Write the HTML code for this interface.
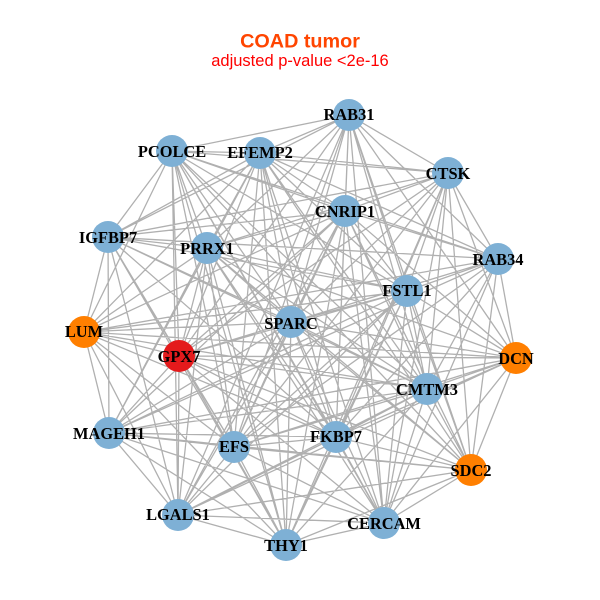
<!DOCTYPE html>
<html><head><meta charset="utf-8"><style>html,body{margin:0;padding:0;background:#fff}svg{display:block}
.n text{font:bold 16.4px "Liberation Serif",serif;text-anchor:middle;fill:#000}</style></head><body>
<svg width="600" height="600" viewBox="0 0 600 600" xmlns="http://www.w3.org/2000/svg">
<path fill="none" stroke="#b0b0b0" stroke-width="1.3" d="
M172 151L260 153M172 151L349 115M172 151L448 173M172 151L345 211M172 151L108 237M172 151L207 248M172 151L407 291M172 151L291 322M172 151L84 332M172 151L179 356M172 151L427 389M172 151L234 447M172 151L336 437M172 151L178 515M172 151L286 545M172 151L498 259M172 151L471 470M172 151L384 523
M260 153L349 115M260 153L448 173M260 153L345 211M260 153L207 248M260 153L498 259M260 153L407 291M260 153L291 322M260 153L179 356M260 153L427 389M260 153L109 433M260 153L234 447M260 153L336 437M260 153L471 470M260 153L384 523M260 153L286 545M260 153L108 237M260 153L84 332
M349 115L448 173M349 115L345 211M349 115L207 248M349 115L407 291M349 115L291 322M349 115L179 356M349 115L516 358M349 115L427 389M349 115L234 447M349 115L336 437M349 115L471 470M349 115L178 515M349 115L384 523M349 115L108 237M349 115L498 259
M448 173L345 211M448 173L498 259M448 173L207 248M448 173L108 237M448 173L407 291M448 173L291 322M448 173L516 358M448 173L427 389M448 173L336 437M448 173L471 470M448 173L384 523M448 173L286 545M448 173L234 447M448 173L179 356
M345 211L108 237M345 211L207 248M345 211L498 259M345 211L407 291M345 211L291 322M345 211L84 332M345 211L179 356M345 211L516 358M345 211L427 389M345 211L109 433M345 211L234 447M345 211L336 437M345 211L471 470M345 211L178 515M345 211L286 545M345 211L384 523
M108 237L207 248M108 237L407 291M108 237L291 322M108 237L84 332M108 237L179 356M108 237L427 389M108 237L109 433M108 237L234 447M108 237L336 437M108 237L178 515M108 237L286 545M108 237L498 259
M207 248L407 291M207 248L291 322M207 248L84 332M207 248L179 356M207 248L516 358M207 248L109 433M207 248L234 447M207 248L336 437M207 248L471 470M207 248L178 515M207 248L384 523M207 248L286 545M207 248L427 389
M498 259L407 291M498 259L291 322M498 259L179 356M498 259L516 358M498 259L427 389M498 259L109 433M498 259L234 447M498 259L336 437M498 259L471 470M498 259L384 523M498 259L84 332
M407 291L291 322M407 291L84 332M407 291L179 356M407 291L516 358M407 291L427 389M407 291L109 433M407 291L234 447M407 291L336 437M407 291L471 470M407 291L178 515M407 291L384 523M407 291L286 545
M291 322L84 332M291 322L179 356M291 322L516 358M291 322L427 389M291 322L109 433M291 322L234 447M291 322L336 437M291 322L471 470M291 322L178 515M291 322L384 523M291 322L286 545
M84 332L179 356M84 332L516 358M84 332L427 389M84 332L109 433M84 332L234 447M84 332L336 437M84 332L178 515M84 332L286 545
M179 356L516 358M179 356L427 389M179 356L109 433M179 356L234 447M179 356L336 437M179 356L471 470M179 356L178 515M179 356L384 523M179 356L286 545
M516 358L427 389M516 358L109 433M516 358L234 447M516 358L336 437M516 358L471 470M516 358L384 523M516 358L178 515
M427 389L109 433M427 389L234 447M427 389L336 437M427 389L471 470M427 389L178 515M427 389L384 523M427 389L286 545
M109 433L234 447M109 433L336 437M109 433L471 470M109 433L178 515M109 433L384 523M109 433L286 545
M234 447L336 437M234 447L471 470M234 447L178 515M234 447L384 523M234 447L286 545
M336 437L471 470M336 437L178 515M336 437L384 523M336 437L286 545
M471 470L178 515M471 470L384 523M471 470L286 545
M178 515L384 523M178 515L286 545M384 523L286 545"/>
<g fill="#7eb0d5">
<circle cx="172" cy="151" r="16"/><circle cx="260" cy="153" r="16"/><circle cx="349" cy="115" r="16"/><circle cx="448" cy="173" r="16"/><circle cx="345" cy="211" r="16"/><circle cx="108" cy="237" r="16"/><circle cx="207" cy="248" r="16"/><circle cx="498" cy="259" r="16"/><circle cx="407" cy="291" r="16"/><circle cx="291" cy="322" r="16"/><circle cx="427" cy="389" r="16"/><circle cx="109" cy="433" r="16"/><circle cx="234" cy="447" r="16"/><circle cx="336" cy="437" r="16"/><circle cx="178" cy="515" r="16"/><circle cx="384" cy="523" r="16"/><circle cx="286" cy="545" r="16"/>
</g>
<g fill="#ff7f00"><circle cx="84" cy="332" r="16"/><circle cx="516" cy="358" r="16"/><circle cx="471" cy="470" r="16"/></g>
<circle cx="179" cy="356" r="16" fill="#e41a1c"/>
<g class="n">
<text x="172" y="157">PCOLCE</text><text x="260" y="158">EFEMP2</text><text x="349" y="120">RAB31</text><text x="448" y="179">CTSK</text><text x="345" y="217">CNRIP1</text><text x="108" y="243">IGFBP7</text><text x="207" y="254">PRRX1</text><text x="498" y="265">RAB34</text><text x="407" y="296">FSTL1</text><text x="291" y="329">SPARC</text><text x="84" y="337">LUM</text><text x="179" y="362">GPX7</text><text x="516" y="364">DCN</text><text x="427" y="395">CMTM3</text><text x="109" y="439">MAGEH1</text><text x="234" y="452">EFS</text><text x="336" y="442">FKBP7</text><text x="471" y="476">SDC2</text><text x="178" y="520">LGALS1</text><text x="384" y="529">CERCAM</text><text x="286" y="551">THY1</text>
</g>
<text x="300" y="47.5" font-family="'Liberation Sans',sans-serif" font-weight="bold" font-size="19.8" fill="#ff4500" text-anchor="middle">COAD tumor</text>
<text x="300" y="66" font-family="'Liberation Sans',sans-serif" font-size="16.5" fill="#ff0000" text-anchor="middle">adjusted p-value &lt;2e-16</text>
</svg></body></html>
